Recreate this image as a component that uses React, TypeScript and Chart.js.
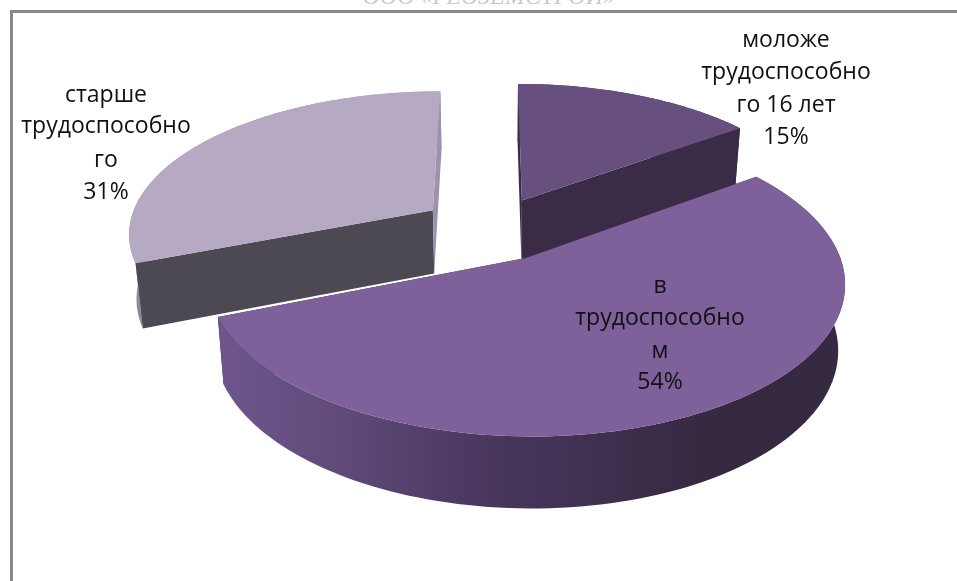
import React, { useEffect, useRef } from "react";
import { Chart, ArcElement, PieController, Tooltip } from "chart.js";

const categories = ["моложе трудоспособного 16 лет", "в трудоспособном", "старше трудоспособного"];
const shares = [15, 54, 31];
const explosions = [0.23, 0.23, 0.235];
const titleText = "ООО «ГЕОЗЕМСТРОЙ»";
const labelLines = [
  ["моложе", "трудоспособно", "го 16 лет", "15%"],
  ["в", "трудоспособно", "м", "54%"],
  ["старше", "трудоспособно", "го", "31%"],
];
const topColors = ["#674f80", "#7e619b", "#b5a9c4"];
const startWallColors = ["#3a2c47", "#35283f", "#4d4953"];
const endWallColors = ["#3a2c47", "#35283f", "#9c92b0"];
const rimStops = [
  ["#5a4670", "#3a2c47"],
  ["#6e568c", "#5f4a7a", "#4b3961", "#3f3050", "#35283f", "#362a42"],
  ["#8e84a0", "#a59ab6"],
];

const VIEW = { cx: 491, cy: 228.6, a: 305, b: 141.8, k: 0.15, vx: 500, sx: 0.02, d0: 55, d1: 0.039 };
const LABEL_LAYOUT = [
  { x: 786, y: [40, 72, 105, 137] },
  { x: 660, y: [286, 318, 351, 382] },
  { x: 106, y: [95, 126, 160, 192] },
];

function project(u: number, v: number, z: number): [number, number] {
  const w = 1 - VIEW.k * v;
  const x = VIEW.cx + (VIEW.a * u) / w;
  const y = VIEW.cy + (VIEW.b * v) / w;
  return [VIEW.vx + (x - VIEW.vx) * (1 - VIEW.sx * z), y + z * (VIEW.d0 + VIEW.d1 * y)];
}

class Arc3D extends ArcElement {
  static id = "arc3d";
  draw(ctx: CanvasRenderingContext2D) {
    const self = this as any;
    const { startAngle, endAngle } = self;
    const index = self.$context?.dataIndex ?? 0;
    const mid = (startAngle + endAngle) / 2;
    const d = explosions[index];
    const ou = d * Math.cos(mid);
    const ov = d * Math.sin(mid);
    const steps = 120;
    const rim: [number, number][] = [];
    for (let i = 0; i <= steps; i++) {
      const t = startAngle + ((endAngle - startAngle) * i) / steps;
      rim.push([ou + Math.cos(t), ov + Math.sin(t)]);
    }
    const poly = (pts: [number, number][], fill: any) => {
      ctx.beginPath();
      pts.forEach((p, i) => (i ? ctx.lineTo(p[0], p[1]) : ctx.moveTo(p[0], p[1])));
      ctx.closePath();
      ctx.fillStyle = fill;
      ctx.fill();
    };
    const top = rim.map((p) => project(p[0], p[1], 0));
    const bottom = rim.map((p) => project(p[0], p[1], 1));
    const apexTop = project(ou, ov, 0);
    const apexBottom = project(ou, ov, 1);

    let minX = Infinity;
    let maxX = -Infinity;
    top.concat(bottom).forEach((p) => {
      minX = Math.min(minX, p[0]);
      maxX = Math.max(maxX, p[0]);
    });
    const grad = ctx.createLinearGradient(minX, 0, maxX, 0);
    rimStops[index].forEach((c, i, arr) => grad.addColorStop(i / (arr.length - 1), c));

    const drawRim = () => poly(top.concat(bottom.slice().reverse()), grad);
    const drawRadial = () => {
      poly([apexTop, top[0], bottom[0], apexBottom], startWallColors[index]);
      poly([apexTop, top[steps], bottom[steps], apexBottom], endWallColors[index]);
    };
    if (endAngle - startAngle > Math.PI) {
      drawRadial();
      drawRim();
    } else {
      drawRim();
      drawRadial();
    }
    poly([apexTop, ...top], self.options.backgroundColor);
  }
}

class Pie3D extends PieController {
  static id = "pie3d";
  static defaults = { dataElementType: "arc3d" };
}

const framePlugin = {
  id: "frame",
  beforeDraw(chart: any) {
    const ctx = chart.ctx;
    ctx.save();
    ctx.fillStyle = "#ffffff";
    ctx.fillRect(0, 0, chart.width, chart.height);
    ctx.font = "italic 24px 'Liberation Serif'";
    ctx.fillStyle = "#c9c9c9";
    ctx.textAlign = "center";
    ctx.textBaseline = "alphabetic";
    ctx.fillText(titleText, 489, 4);
    ctx.fillStyle = "#888888";
    ctx.fillRect(10, 10, chart.width - 10, 3);
    ctx.fillRect(10, 10, 3, chart.height - 10);
    ctx.restore();
  },
};

const labelPlugin = {
  id: "sliceLabels",
  afterDatasetsDraw(chart: any) {
    const ctx = chart.ctx;
    ctx.save();
    ctx.font = "23px 'Open Sans'";
    ctx.fillStyle = "#111111";
    ctx.textAlign = "center";
    ctx.textBaseline = "middle";
    labelLines.forEach((lines, i) => {
      lines.forEach((line, j) => ctx.fillText(line, LABEL_LAYOUT[i].x, LABEL_LAYOUT[i].y[j]));
    });
    ctx.restore();
  },
};

Chart.register(Arc3D, Pie3D, Tooltip);

export default function App() {
  const ref = useRef<HTMLCanvasElement>(null);
  useEffect(() => {
    const chart = new Chart(ref.current as HTMLCanvasElement, {
      type: "pie3d" as any,
      data: {
        labels: categories,
        datasets: [{ data: shares, backgroundColor: topColors, borderWidth: 0 }],
      },
      options: {
        responsive: false,
        animation: false,
        plugins: { legend: { display: false }, tooltip: { enabled: false } },
      },
      plugins: [framePlugin, labelPlugin],
    } as any);
    return () => chart.destroy();
  }, []);
  return (
    <canvas
      ref={ref}
      width={957}
      height={581}
      style={{ position: "absolute", left: 0, top: 0, display: "block", width: 957, height: 581 }}
    />
  );
}
